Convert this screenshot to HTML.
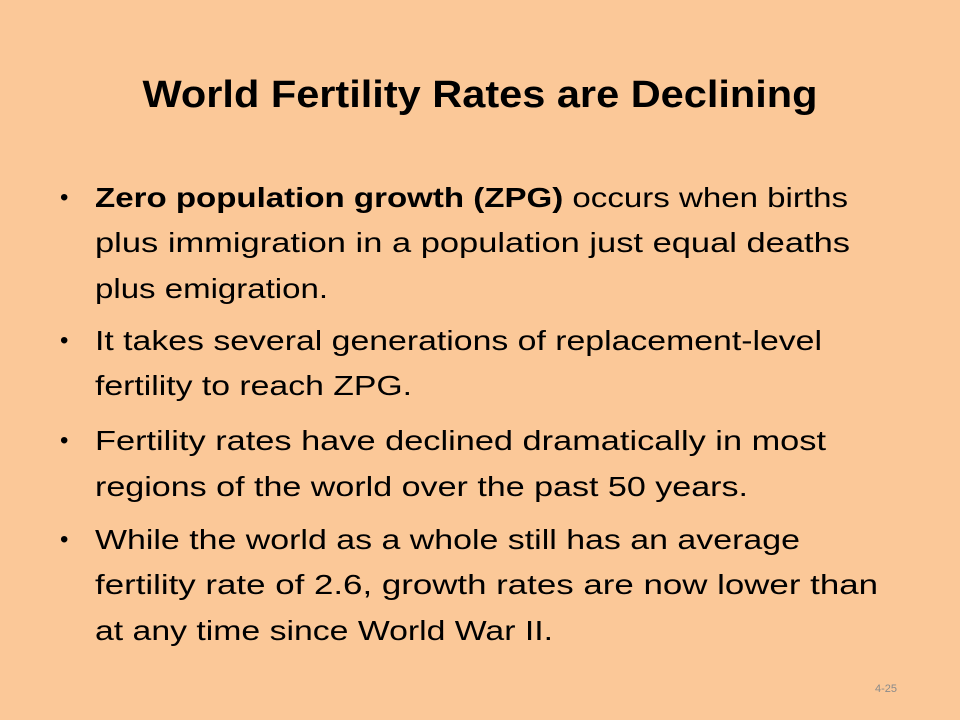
<!DOCTYPE html>
<html><head><meta charset="utf-8"><style>
html,body{margin:0;padding:0;background:#FBC898;}
svg{display:block;}
text{font-family:"Liberation Sans",sans-serif;fill:#000;}
</style></head><body>
<svg width="960" height="720" viewBox="0 0 960 720">
<rect width="960" height="720" fill="#FBC898"/>
<text x="480" y="107" text-anchor="middle" font-size="38" font-weight="bold" textLength="675" lengthAdjust="spacingAndGlyphs">World Fertility Rates are Declining</text>
<g font-size="28">
<g>
<text x="60" y="205" font-size="24">•</text>
<text x="95" y="207" textLength="753" lengthAdjust="spacingAndGlyphs"><tspan font-weight="bold">Zero population growth (ZPG)</tspan> occurs when births</text>
<text x="95" y="252" textLength="755" lengthAdjust="spacingAndGlyphs">plus immigration in a population just equal deaths</text>
<text x="95" y="298" textLength="233" lengthAdjust="spacingAndGlyphs">plus emigration.</text>
</g>
<g>
<text x="60" y="348" font-size="24">•</text>
<text x="95" y="350" textLength="727" lengthAdjust="spacingAndGlyphs">It takes several generations of replacement-level</text>
<text x="95" y="395" textLength="317" lengthAdjust="spacingAndGlyphs">fertility to reach ZPG.</text>
</g>
<g>
<text x="60" y="448" font-size="24">•</text>
<text x="95" y="450" textLength="731" lengthAdjust="spacingAndGlyphs">Fertility rates have declined dramatically in most</text>
<text x="95" y="496" textLength="653" lengthAdjust="spacingAndGlyphs">regions of the world over the past 50 years.</text>
</g>
<g>
<text x="60" y="547" font-size="24">•</text>
<text x="95" y="549" textLength="705" lengthAdjust="spacingAndGlyphs">While the world as a whole still has an average</text>
<text x="95" y="594" textLength="783" lengthAdjust="spacingAndGlyphs">fertility rate of 2.6, growth rates are now lower than</text>
<text x="95" y="640" textLength="458" lengthAdjust="spacingAndGlyphs">at any time since World War II.</text>
</g>
</g>
<text x="886" y="692" text-anchor="middle" font-size="11" style="fill:#8a8a8a">4-25</text>
</svg>
</body></html>
